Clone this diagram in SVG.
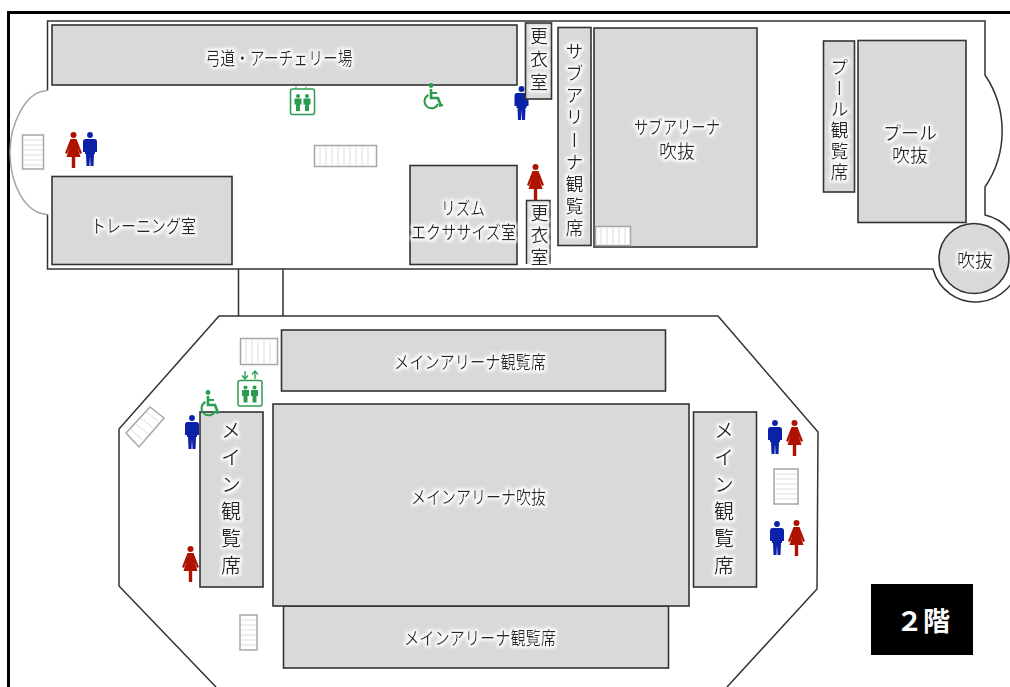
<svg xmlns="http://www.w3.org/2000/svg" width="1010" height="687" viewBox="0 0 1010 687">
<style>
.room{fill:#d9d9d9;stroke:#333;stroke-width:1.6}
.wall{fill:none;stroke:#333;stroke-width:1.5}
.stair{fill:#fff;stroke:#a6a6a6;stroke-width:1.5}
.step{stroke:#ddd;stroke-width:1;fill:none}
text{font-family:"Noto Sans CJK JP","Noto Sans",sans-serif;font-size:18px;fill:#262626;text-anchor:middle;filter:url(#glow)}
.v{writing-mode:vertical-rl;text-anchor:start;letter-spacing:6px}
.big{font-size:20px;letter-spacing:7px}
.m{fill:#0b22a8}.f{fill:#ae1200}.g{fill:#2b9c4f}
</style>
<defs>
<clipPath id="lockerClip"><rect x="520" y="195" width="36" height="70"/></clipPath>
<filter id="glow" x="-20%" y="-20%" width="140%" height="140%">
<feMorphology in="SourceAlpha" operator="dilate" radius="1.5" result="d"/>
<feGaussianBlur in="d" stdDeviation="1.5" result="b"/>
<feFlood flood-color="#fff"/>
<feComposite in2="b" operator="in" result="w"/>
<feMerge><feMergeNode in="w"/><feMergeNode in="SourceGraphic"/></feMerge>
</filter>
<symbol id="man" viewBox="0 0 14 34" width="14" height="34" overflow="visible">
<circle cx="7" cy="3" r="2.9"/>
<path d="M2.500 7H11.500Q14 7 14 10V20H12V22H11L10.500 34H7.500L7 24L6.500 34H3.500L3 22H2V20H0V10Q0 7 2.500 7Z"/>
</symbol>
<symbol id="woman" viewBox="0 0 17 36" width="17" height="36" overflow="visible">
<circle cx="8.500" cy="3" r="3"/>
<path d="M5.500 7H11.500L17 21L15 22L12.500 15.500L15.500 25H10.200V36H6.800V25H1.500L4.500 15.500L2 22L0 21Z"/>
</symbol>
<symbol id="wc" viewBox="0 0 20 27" width="20" height="27" overflow="visible">
<circle cx="8" cy="2.500" r="2.400" fill="#2b9c4f"/>
<path d="M8 6V15H15L18 23" fill="none" stroke="#2b9c4f" stroke-width="2.600"/>
<path d="M8 10H14" fill="none" stroke="#2b9c4f" stroke-width="2"/>
<path d="M5.500 12A7 7 0 1 0 15 21" fill="none" stroke="#2b9c4f" stroke-width="2"/>
<path d="M16 23L20 22" fill="none" stroke="#2b9c4f" stroke-width="2"/>
</symbol>
<g id="ev">
<rect x="0" y="0" width="24" height="25.500" rx="2" fill="#fff" stroke="#2b9c4f" stroke-width="1.500"/>
<circle cx="7.500" cy="7" r="2" fill="#2b9c4f"/><circle cx="16.500" cy="7" r="2" fill="#2b9c4f"/>
<path d="M4 9.500H11V15.500H9.500V22H5.500V15.500H4ZM13 9.500H20V15.500H18.500V22H14.500V15.500H13Z" fill="#2b9c4f"/>
</g>
</defs>

<g id="frame"><path d="M1010 12.500H8.500V687" fill="none" stroke="#000" stroke-width="3"/></g>

<g id="connectors">
<path class="wall" d="M47.500 90.500V21H985V75A100 100 0 0 1 985 187V215A44 44 0 1 1 933 269H47.500V214.500"/>
<path d="M47.500 90.500C25 91 10 125 10 152C10 185 25 213 47.500 214.500" fill="none" stroke="#a6a6a6" stroke-width="1.500"/>
<path class="wall" d="M238.500 269V316M283 269V316"/>
<path class="wall" d="M216 687L119 586V429L219 316H718L818 432L817 589L727 687"/>
</g>

<g id="stairs">
<g id="stair-1"><rect class="stair" x="22.500" y="135" width="21" height="34"/><path class="step" d="M23 140H43M23 145H43M23 150H43M23 155H43M23 160H43M23 165H43"/></g>
<g id="stair-2"><rect class="stair" x="314.500" y="145.500" width="62" height="21"/><path class="step" d="M320 146V166M326 146V166M332 146V166M338 146V166M344 146V166M350 146V166M356 146V166M362 146V166M368 146V166"/></g>
<g id="stair-3"><rect class="stair" x="240.500" y="338.500" width="37" height="26"/><path class="step" d="M246 339V364M252 339V364M258 339V364M264 339V364M270 339V364"/></g>
<g id="stair-4"><path class="stair" d="M150 407L164 418L139 447L126 433Z"/><path class="step" d="M146 412L158 421M141 418L153 428M136 424L148 434M131 430L143 440"/></g>
<g id="stair-5"><rect class="stair" x="240" y="615" width="17" height="35"/><path class="step" d="M241 620H256M241 625H256M241 630H256M241 635H256M241 640H256M241 645H256"/></g>
<g id="stair-6"><rect class="stair" x="774" y="469" width="24" height="35"/><path class="step" d="M775 474H797M775 479H797M775 484H797M775 489H797M775 494H797M775 499H797"/></g>
</g>

<use id="man-locker" href="#man" class="m" x="514.500" y="86"/>

<g id="archery"><rect class="room" x="52" y="25" width="465" height="60"/><text x="279" y="65" textLength="147" lengthAdjust="spacingAndGlyphs">弓道・アーチェリー場</text></g>
<g id="locker-1"><rect class="room" x="525.500" y="23" width="26" height="76"/><text class="v" x="539" y="27" style="letter-spacing:5px">更衣室</text></g>
<g id="locker-2"><path d="M526.500 264V200.500H550V264" fill="#d9d9d9" stroke="#333" stroke-width="1.500"/><g clip-path="url(#lockerClip)"><text class="v" x="539.500" y="204" style="letter-spacing:4px">更衣室</text></g></g>
<g id="sub-seats"><rect class="room" x="558" y="27.500" width="33" height="218"/><text class="v" x="574.500" y="42" style="letter-spacing:4.200px">サブアリーナ観覧席</text></g>
<g id="sub-void"><rect class="room" x="594" y="28" width="163" height="219"/><text x="677" y="134" textLength="86" lengthAdjust="spacingAndGlyphs">サブアリーナ</text><text x="677" y="158">吹抜</text></g>
<g id="stair-7"><rect class="stair" x="595.500" y="226.500" width="35" height="19"/><path class="step" d="M601 227V245M607 227V245M613 227V245M619 227V245M625 227V245"/></g>
<g id="pool-seats"><rect class="room" x="823.500" y="41" width="31" height="151"/><text class="v" x="839.500" y="58" style="letter-spacing:3px">プール観覧席</text></g>
<g id="pool-void"><rect class="room" x="858" y="40.500" width="108" height="182"/><text x="910" y="140">プール</text><text x="910" y="162">吹抜</text></g>
<g id="void-round"><circle class="room" cx="974" cy="258.500" r="35"/><text x="975" y="267">吹抜</text></g>
<g id="rhythm"><rect class="room" x="410" y="165.500" width="107" height="99"/><text x="463" y="215" textLength="44" lengthAdjust="spacingAndGlyphs">リズム</text><text x="463.500" y="239" textLength="105" lengthAdjust="spacingAndGlyphs">エクササイズ室</text></g>
<g id="training"><rect class="room" x="52" y="176.500" width="180" height="88"/><text x="143.500" y="233" textLength="105" lengthAdjust="spacingAndGlyphs">トレーニング室</text></g>
<g id="main-seats-top"><rect class="room" x="281.500" y="330" width="384" height="61"/><text x="470" y="369" textLength="152" lengthAdjust="spacingAndGlyphs">メインアリーナ観覧席</text></g>
<g id="main-seats-bottom"><rect class="room" x="283.500" y="606" width="385" height="62"/><text x="480" y="645" textLength="152" lengthAdjust="spacingAndGlyphs">メインアリーナ観覧席</text></g>
<g id="main-void"><rect class="room" x="273" y="404" width="416" height="202"/><text x="478.500" y="504" textLength="135" lengthAdjust="spacingAndGlyphs">メインアリーナ吹抜</text></g>
<g id="main-seats-left"><rect class="room" x="200" y="412" width="63" height="175"/><text class="v big" x="231" y="420">メイン観覧席</text></g>
<g id="main-seats-right"><rect class="room" x="693.500" y="412" width="63" height="175"/><text class="v big" x="724" y="420">メイン観覧席</text></g>

<g id="floor-label"><rect x="871" y="584" width="102" height="71" fill="#000"/><text x="923" y="631" style="fill:#fff;font-size:27px;font-weight:700;filter:none">２階</text></g>

<g id="icons">
<use href="#woman" class="f" x="65" y="132"/>
<use href="#man" class="m" x="83" y="132"/>
<use href="#ev" x="290.500" y="89"/>
<path d="M296 86.500V88.500M306 86.500V88.500" stroke="#2b9c4f" stroke-width="1"/>
<use href="#wc" x="423" y="83"/>
<use href="#woman" class="f" x="527" y="164"/>
<use href="#ev" x="238" y="380.500"/>
<path d="M245 371V379M242 375.500L245 379L248 375.500M255 379V371M252 374.500L255 371L258 374.500" fill="none" stroke="#2b9c4f" stroke-width="1.300"/>
<use href="#wc" x="200" y="390"/>
<use href="#man" class="m" x="185" y="415"/>
<use href="#woman" class="f" x="182" y="546"/>
<use href="#man" class="m" x="768" y="420"/>
<use href="#woman" class="f" x="786" y="420"/>
<use href="#man" class="m" x="770" y="521"/>
<use href="#woman" class="f" x="788" y="520"/>
</g>
</svg>
